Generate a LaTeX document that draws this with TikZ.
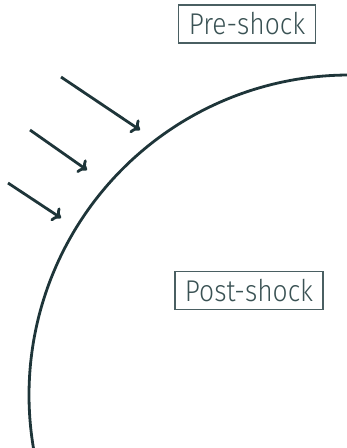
\documentclass[tikz,border=0pt]{standalone}
\usepackage{fontspec}
\setmainfont{Fira Sans}[UprightFont={* Light}, FakeStretch=0.88]
\usetikzlibrary{arrows.meta}
\definecolor{ink}{HTML}{1E3539}
\definecolor{txt}{HTML}{3A5254}
\definecolor{frame}{HTML}{4A5F62}
\tikzset{
  label box/.style={draw=frame, line width=1.2pt, text=txt, inner xsep=10pt, inner ysep=0pt,
    minimum height=38pt, font=\fontsize{30}{34}\selectfont},
  flow arrow/.style={draw=ink, line width=2.8pt, -{To[length=8pt,width=16pt,line width=2.8pt]}},
  shock/.style={draw=ink, line width=2.8pt}
}
\begin{document}
\begin{tikzpicture}[x=1pt,y=-1pt]
\useasboundingbox (0,0) rectangle (347,448);
\node[label box] (pre) at (247,24) {Pre-shock};
\node[label box] (post) at (249,290.5) {Post-shock};
\draw[shock] plot[domain=-90.3:-190,samples=120] ({349+320*cos(\x)},{395+320*sin(\x)});
\coordinate (a1s) at (61,77);
\coordinate (a1e) at (140,130);
\coordinate (a2s) at (30,130);
\coordinate (a2e) at (87,170);
\coordinate (a3s) at (8,183);
\coordinate (a3e) at (61,218);
\draw[flow arrow] (a1s) -- (a1e);
\draw[flow arrow] (a2s) -- (a2e);
\draw[flow arrow] (a3s) -- (a3e);
\end{tikzpicture}
\end{document}
